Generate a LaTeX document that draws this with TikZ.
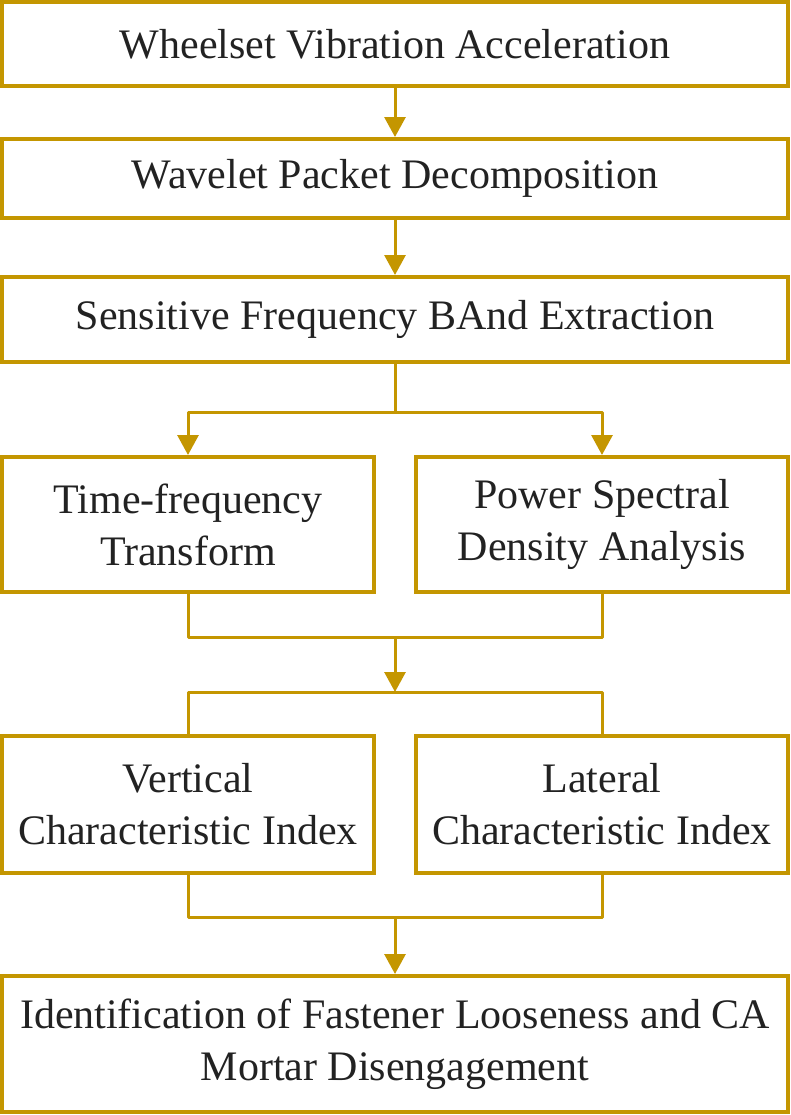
\documentclass[tikz,border=0pt]{standalone}
\usepackage{fontspec}
\setmainfont{Liberation Serif}
\usetikzlibrary{positioning,arrows.meta,calc}
\definecolor{ochre}{HTML}{C49600}
\definecolor{ink}{HTML}{222222}
\tikzset{
  box/.style ={draw=ochre, line width=2pt, fill=white, align=center, inner sep=0pt, text=ink, font=\fontsize{21}{26}\selectfont, minimum width=393pt},
  boxh/.style={box, minimum width=186pt, minimum height=67.5pt},
  ln/.style  ={draw=ochre, line width=1.5pt, line join=round, -{Triangle[length=10pt,width=10.5pt]}},
  lnp/.style ={draw=ochre, line width=1.5pt, line join=round},
}

\begin{document}
\begin{tikzpicture}[x=0.5pt,y=-0.5pt]
    \useasboundingbox (0,0) rectangle (791,1115);
    \node[box,minimum height=42pt] (wva) at (395,44) {Wheelset Vibration Acceleration};
    \node[box,minimum height=39.5pt] (wpd) at (395,178.5) {Wavelet Packet Decomposition};
    \node[box,minimum height=42.5pt] (sfe) at (395,319.5) {Sensitive Frequency BAnd Extraction};
    \node[boxh] (tft) at (188,524.5) {Time-frequency\\Transform};
    \node[boxh] (psd) at (602,524.5) {Power Spectral\\Density Analysis};
    \node[boxh,minimum height=68.5pt] (vci) at (188,804.5) {Vertical\\Characteristic Index};
    \node[boxh,minimum height=68.5pt] (lci) at (602,804.5) {Lateral\\Characteristic Index};
    \node[box,minimum height=68pt] (ifl) at (395,1044) {Identification of Fastener Looseness and CA\\Mortar Disengagement};

    \coordinate (split1) at (395,412);
    \coordinate (join1)  at (395,637);
    \coordinate (split2) at (395,692);
    \coordinate (join2)  at (395,917);

    \draw[ln] (wva) -- (wpd);
    \draw[ln] (wpd) -- (sfe);
    \draw[lnp] (sfe) -- (split1);
    \draw[ln] (split1) -| (tft);
    \draw[ln] (split1) -| (psd);
    \draw[lnp] (tft) |- (join1);
    \draw[lnp] (psd) |- (join1);
    \draw[ln] (join1) -- (split2);
    \draw[lnp] (split2) -| (vci);
    \draw[lnp] (split2) -| (lci);
    \draw[lnp] (vci) |- (join2);
    \draw[lnp] (lci) |- (join2);
    \draw[ln] (join2) -- (ifl);
  \end{tikzpicture}
\end{document}
